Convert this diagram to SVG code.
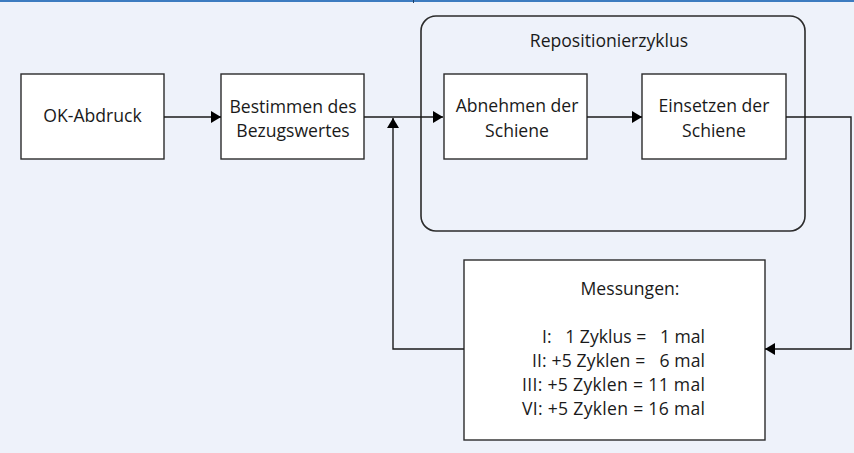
<svg xmlns="http://www.w3.org/2000/svg" width="854" height="453" viewBox="0 0 854 453">
<style>
.bg{fill:#EEF2FA}
.box{fill:#fff;stroke:#2b2b2b;stroke-width:1.4}
.grp{fill:none;stroke:#2b2b2b;stroke-width:1.6}
.ln{fill:none;stroke:#1a1a1a;stroke-width:1.4}
text{font-family:"Open Sans","Liberation Sans",sans-serif;font-size:17.6px;fill:#1a1a1a}
.c{text-anchor:middle}
.r{text-anchor:end}
</style>
<defs>
<marker id="ah" viewBox="0 0 10 12" refX="10" refY="6" markerWidth="10" markerHeight="12" markerUnits="userSpaceOnUse" orient="auto">
<path d="M0,0 L10,6 L0,12 Z" fill="#000"/>
</marker>
</defs>
<rect class="bg" x="0" y="0" width="854" height="453"/>
<rect x="0" y="0" width="854" height="2" fill="#3D7CC0"/>
<rect x="413" y="0" width="1" height="3" fill="#1d3f66"/>

<g id="repositionierzyklus">
<rect class="grp" x="421" y="16" width="384" height="215" rx="15" ry="15"/>
<text class="c" x="609" y="47">Repositionierzyklus</text>
</g>

<g id="ok-abdruck">
<rect class="box" x="21" y="74" width="143" height="85"/>
<text class="c" x="92.5" y="122">OK-Abdruck</text>
</g>

<g id="bestimmen">
<rect class="box" x="221" y="74" width="143" height="85"/>
<text class="c" x="293" y="113">Bestimmen des</text>
<text class="c" x="293" y="137">Bezugswertes</text>
</g>

<g id="abnehmen">
<rect class="box" x="444" y="74" width="143" height="85"/>
<text class="c" x="517" y="112">Abnehmen der</text>
<text class="c" x="517" y="137">Schiene</text>
</g>

<g id="einsetzen">
<rect class="box" x="642" y="74" width="144" height="85"/>
<text class="c" x="714" y="112">Einsetzen der</text>
<text class="c" x="714" y="137">Schiene</text>
</g>

<g id="messungen">
<rect class="box" x="464" y="260" width="301" height="180"/>
<text class="c" x="630" y="295">Messungen:</text>
<text x="542" y="343" textLength="163" lengthAdjust="spacing" xml:space="preserve">I:   1 Zyklus =   1 mal</text>
<text x="532" y="367" textLength="173" lengthAdjust="spacing" xml:space="preserve">II: +5 Zyklen =   6 mal</text>
<text x="522" y="391" textLength="183" lengthAdjust="spacing">III: +5 Zyklen = 11 mal</text>
<text x="522" y="415" textLength="183" lengthAdjust="spacing">VI: +5 Zyklen = 16 mal</text>
</g>

<g id="connectors">
<path class="ln" d="M164,117 H221" marker-end="url(#ah)"/>
<path class="ln" d="M364,117 H443" marker-end="url(#ah)"/>
<path class="ln" d="M587,117 H642" marker-end="url(#ah)"/>
<path class="ln" d="M786,117 H851 V349 H765" marker-end="url(#ah)"/>
<path class="ln" d="M464,349 H393 V118" marker-end="url(#ah)"/>
</g>
</svg>
